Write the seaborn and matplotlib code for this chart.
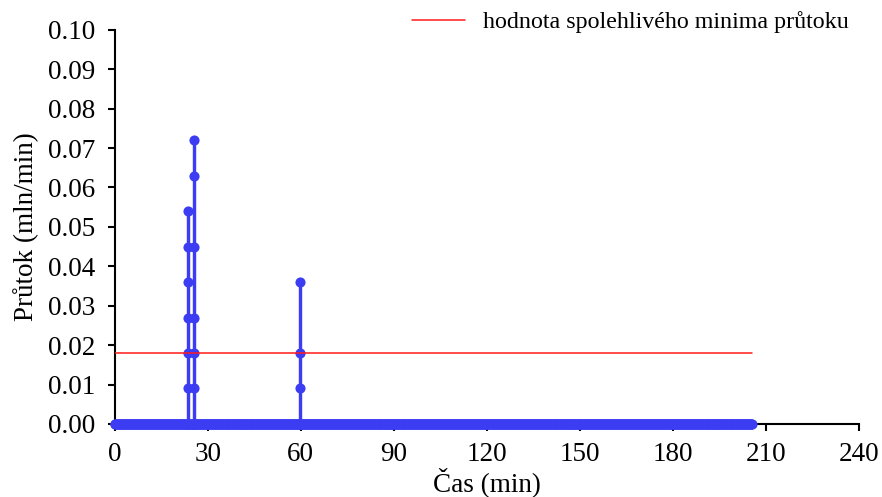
import numpy as np
import pandas as pd
import matplotlib
matplotlib.use("Agg")
import matplotlib.pyplot as plt
import seaborn as sns

# Measured flow: zero most of the time, with short bursts
sample_step = 0.25           # min
end_time = 205.5             # min
spike_times = [23.8, 25.5, 59.7]
spike_values = [
    [0.009, 0.018, 0.027, 0.036, 0.045, 0.054],
    [0.009, 0.018, 0.027, 0.045, 0.063, 0.072],
    [0.009, 0.018, 0.036],
]
# Reliable minimum flow threshold
threshold = 0.018
threshold_span = [0.0, 205.5]

x_ticks = [0, 30, 60, 90, 120, 150, 180, 210, 240]
y_ticks = [0.00, 0.01, 0.02, 0.03, 0.04, 0.05, 0.06, 0.07, 0.08, 0.09, 0.10]

# Build the time series: zero baseline plus vertical bursts
base_t = np.arange(0.0, end_time + 1e-9, sample_step)
base = pd.DataFrame({"t": base_t, "q": np.zeros_like(base_t), "k": 0})
rows = []
for ts, vals in zip(spike_times, spike_values):
    seq = [0.0] + list(vals) + [0.0]
    for i, v in enumerate(seq):
        rows.append({"t": ts, "q": v, "k": 1 + i})
spikes = pd.DataFrame(rows)
series = pd.concat([base, spikes], ignore_index=True).sort_values(["t", "k"], kind="stable")

thr = pd.DataFrame({"t": threshold_span, "q": [threshold, threshold]})

sns.set_style("ticks")
plt.rcParams["font.family"] = ["Liberation Serif", "DejaVu Serif"]
plt.rcParams["axes.linewidth"] = 1.5
plt.rcParams["text.color"] = "black"
plt.rcParams["axes.labelcolor"] = "black"

fig = plt.figure(figsize=(8.82, 4.97), dpi=100)
ax = fig.add_axes([0.130, 0.147, 0.844, 0.793])

blue = "#3c3cf2"
sns.lineplot(data=series, x="t", y="q", sort=False, estimator=None, ax=ax,
             color=blue, lw=2.3, marker="o", markersize=7.3,
             markeredgewidth=0, zorder=2, legend=False, clip_on=False)
sns.lineplot(data=thr, x="t", y="q", sort=False, estimator=None, ax=ax,
             color="#ff1a1a", lw=1.1, zorder=3,
             label="hodnota spolehlivého minima průtoku")

ax.set_xlim(0, 240)
ax.set_ylim(0, 0.10)
ax.set_xticks(x_ticks)
ax.set_yticks(y_ticks)
ax.set_yticklabels([f"{v:.2f}" for v in y_ticks])
ax.tick_params(axis="both", labelsize=19.5, direction="out", length=5,
               width=1.5, colors="black")
ax.tick_params(axis="y", pad=9)
ax.tick_params(axis="x", pad=8)
for s in ("top", "right"):
    ax.spines[s].set_visible(False)
for s in ("left", "bottom"):
    ax.spines[s].set_color("black")
    ax.spines[s].set_zorder(1)

ax.set_xlabel("Čas (min)", fontsize=19.5, labelpad=0)
ax.set_ylabel("Průtok (mln/min)", fontsize=19.5, labelpad=6)

ax.get_legend().remove()
h, l = ax.get_legend_handles_labels()
fig.legend(h, l, loc="center right", bbox_to_anchor=(849 / 882, 1 - 22 / 497),
           frameon=False, fontsize=17.3, handlelength=2.2, handletextpad=0.75,
           borderpad=0, borderaxespad=0)

fig.savefig("out.png", dpi=100)
